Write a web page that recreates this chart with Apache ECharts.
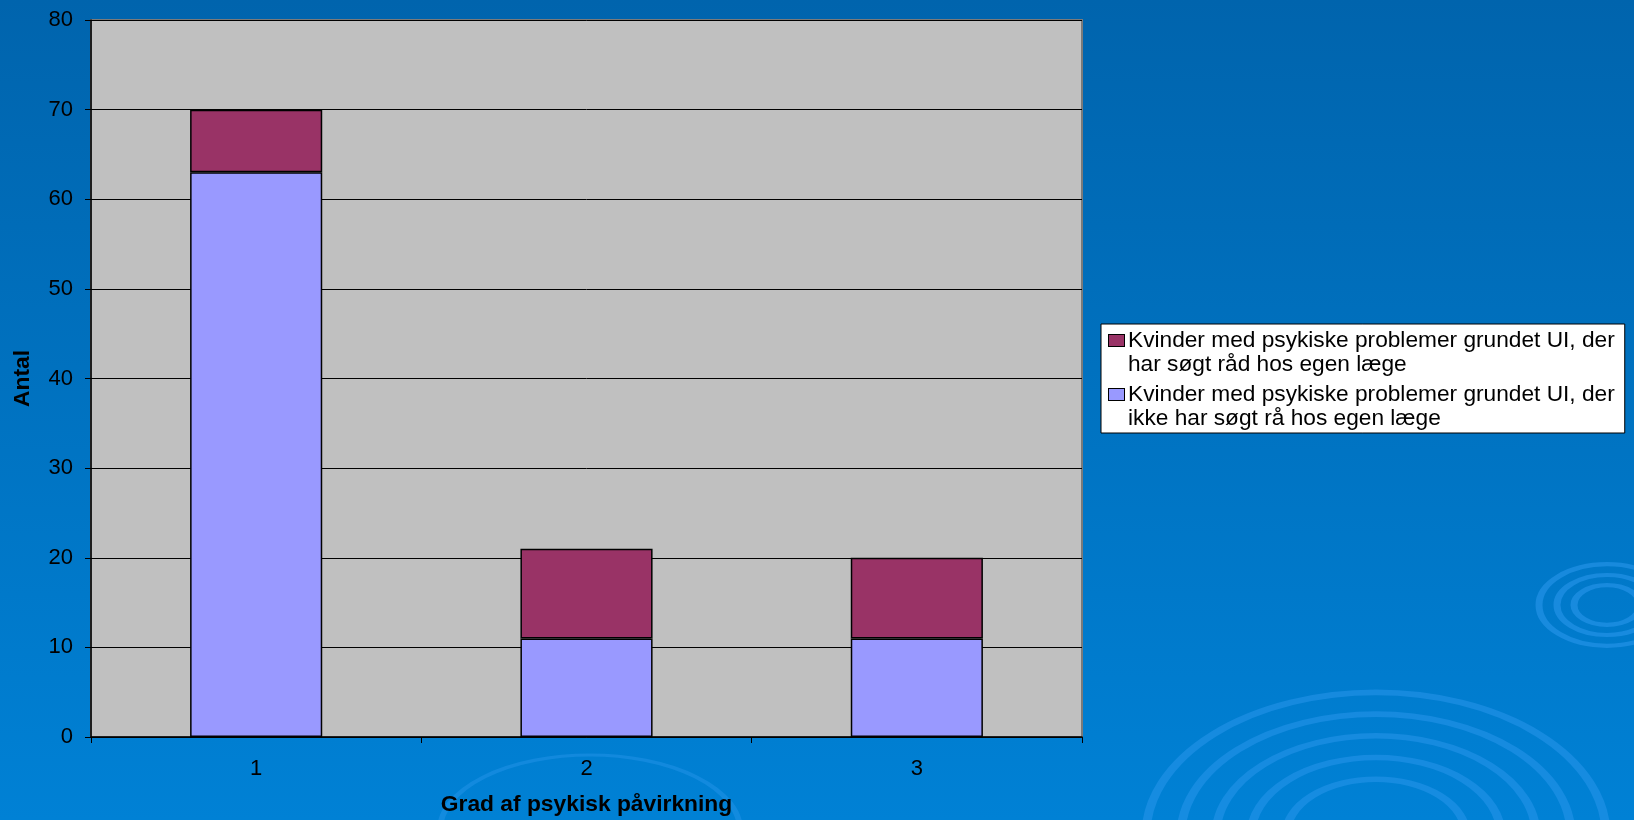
<!DOCTYPE html>
<html>
<head>
<meta charset="utf-8">
<script src="https://cdn.jsdelivr.net/npm/echarts@6/dist/echarts.min.js"></script>
<style>
html,body{margin:0;padding:0;width:1634px;height:820px;overflow:hidden;}
#chart{width:1634px;height:820px;}
</style>
</head>
<body>
<div id="chart"></div>
<script>
// ---- data ----
const categories = ['1', '2', '3'];
const seriesNames = [
  'Kvinder med psykiske problemer grundet UI, der har søgt råd hos egen læge',
  'Kvinder med psykiske problemer grundet UI, der ikke har søgt rå hos egen læge'
];
const legendLine1 = ['Kvinder med psykiske problemer grundet UI, der', 'Kvinder med psykiske problemer grundet UI, der'];
const legendLine2 = ['har søgt råd hos egen læge', 'ikke har søgt rå hos egen læge'];
const harSoegt = [7, 10, 9];
const ikkeSoegt = [63, 11, 11];
const yTicks = [0, 10, 20, 30, 40, 50, 60, 70, 80];
const xAxisName = 'Grad af psykisk påvirkning';
const yAxisName = 'Antal';

const font = 'Liberation Sans, Arial, sans-serif';
const colHar = '#993366';
const colIkke = '#9999FF';

function ripple(cx, cy, radii, sy, color, lw) {
  return radii.map(r => ({
    type: 'circle', z: -10, silent: true,
    x: cx, y: cy, scaleY: sy,
    shape: { cx: 0, cy: 0, r: r },
    style: { fill: 'none', stroke: color, lineWidth: lw }
  }));
}

const chart = echarts.init(document.getElementById('chart'));
chart.setOption({
  animation: false,
  backgroundColor: {
    type: 'linear', x: 0, y: 0, x2: 0, y2: 1,
    colorStops: [{ offset: 0, color: '#0064AD' }, { offset: 1, color: '#0081D5' }]
  },
  graphic: [].concat(
    ripple(1376, 835, [230, 195, 160, 125, 90], 0.62, 'rgba(40,150,235,0.55)', 9),
    ripple(1607, 605, [68, 50, 33], 0.6, 'rgba(40,150,235,0.6)', 7),
    ripple(590, 830, [150], 0.5, 'rgba(40,150,235,0.45)', 6)
  ),
  grid: {
    left: 91, right: 552, top: 20, bottom: 83,
    containLabel: false, outerBoundsMode: 'none',
    show: true, backgroundColor: '#C0C0C0', borderColor: '#7a7a7a', borderWidth: 2
  },
  legend: {
    orient: 'vertical',
    left: 1101, top: 324,
    backgroundColor: '#ffffff',
    borderColor: '#000000', borderWidth: 1,
    padding: [4.5, 10, 2.5, 1],
    itemGap: 6,
    itemWidth: 1, itemHeight: 1,
    icon: 'rect',
    itemStyle: { opacity: 0 },
    data: [seriesNames[0], seriesNames[1]],
    formatter: function (n) {
      const i = seriesNames.indexOf(n);
      return '{s' + i + '|}{g|}{t|' + legendLine1[i] + '}\n{ind|}{t|' + legendLine2[i] + '}';
    },
    textStyle: {
      fontFamily: font, fontSize: 22.7, lineHeight: 24, color: '#000',
      rich: {
        s0: { width: 15, height: 11, backgroundColor: colHar, borderColor: '#000', borderWidth: 1, verticalAlign: 'middle' },
        s1: { width: 15, height: 11, backgroundColor: colIkke, borderColor: '#000', borderWidth: 1, verticalAlign: 'middle' },
        g: { width: 4 },
        ind: { width: 19 },
        t: { fontFamily: font, fontSize: 22.7, lineHeight: 24, color: '#000' }
      }
    }
  },
  xAxis: {
    type: 'category',
    data: categories,
    name: xAxisName,
    nameLocation: 'middle',
    nameGap: 56,
    nameTextStyle: { fontFamily: font, fontSize: 22.8, fontWeight: 'bold', color: '#000' },
    axisLine: { lineStyle: { color: '#000', width: 1.5 } },
    axisTick: { show: true, alignWithLabel: false, length: 6, lineStyle: { color: '#000' } },
    axisLabel: { fontFamily: font, fontSize: 22, color: '#000', margin: 21 },
    splitLine: { show: false }
  },
  yAxis: {
    type: 'value',
    min: 0, max: 80, interval: 10,
    name: yAxisName,
    nameLocation: 'middle',
    nameGap: 57,
    nameRotate: 90,
    nameTextStyle: { fontFamily: font, fontSize: 22.8, fontWeight: 'bold', color: '#000' },
    axisLine: { show: true, lineStyle: { color: '#000', width: 1.5 } },
    axisTick: { show: true, length: 6, lineStyle: { color: '#000' } },
    axisLabel: {
      fontFamily: font, fontSize: 22, color: '#000', margin: 18,
      formatter: function (v) { return yTicks.indexOf(v) >= 0 ? String(v) : ''; }
    },
    splitLine: { show: true, lineStyle: { color: '#000', width: 1 } }
  },
  series: [
    {
      name: seriesNames[1], type: 'bar', stack: 'total', data: ikkeSoegt,
      barWidth: '40%',
      itemStyle: { color: colIkke, borderColor: '#000', borderWidth: 1.5 }
    },
    {
      name: seriesNames[0], type: 'bar', stack: 'total', data: harSoegt,
      barWidth: '40%',
      itemStyle: { color: colHar, borderColor: '#000', borderWidth: 1.5 }
    }
  ]
});
</script>
</body>
</html>
